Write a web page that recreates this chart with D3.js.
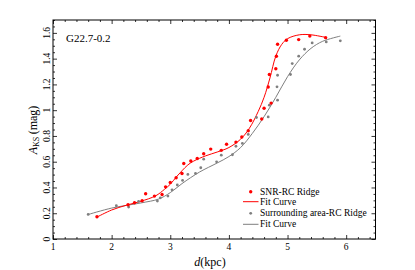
<!DOCTYPE html>
<html>
<head>
<meta charset="utf-8">
<script src="https://cdn.jsdelivr.net/npm/d3@7"></script>
<style>
  body { margin: 0; background: #fff; }
  svg text { font-family: "Liberation Serif", "DejaVu Serif", serif; fill: #000; }
</style>
</head>
<body>
<svg width="415" height="270"></svg>
<script>
// SNR-RC ridge points (red)
const snrD = [1.75, 2.28, 2.39, 2.52, 2.58, 2.73, 2.86, 2.92, 3.00, 3.10, 3.20, 3.23, 3.35, 3.46, 3.57, 3.69, 3.87, 3.96, 4.12, 4.22, 4.33, 4.37, 4.56, 4.60, 4.67, 4.72, 4.69, 4.80, 4.81, 4.83, 4.98, 5.19, 5.38, 5.65];
const snrA = [0.173, 0.266, 0.281, 0.297, 0.351, 0.333, 0.346, 0.405, 0.439, 0.476, 0.509, 0.586, 0.606, 0.625, 0.662, 0.698, 0.688, 0.735, 0.752, 0.792, 0.840, 0.920, 0.932, 1.015, 1.180, 1.055, 1.277, 1.322, 1.419, 1.512, 1.543, 1.548, 1.575, 1.563];

// surrounding area RC ridge points (gray)
const surD = [1.60, 2.08, 2.29, 2.46, 2.78, 2.83, 2.96, 3.03, 3.12, 3.21, 3.30, 3.43, 3.52, 3.57, 3.79, 3.87, 4.06, 4.12, 4.23, 4.33, 4.47, 4.67, 4.69, 4.83, 4.82, 4.83, 5.05, 5.08, 5.19, 5.29, 5.42, 5.66, 5.90];
const surA = [0.191, 0.258, 0.248, 0.292, 0.295, 0.320, 0.333, 0.382, 0.419, 0.455, 0.501, 0.509, 0.553, 0.620, 0.599, 0.651, 0.654, 0.720, 0.742, 0.812, 0.943, 0.948, 1.039, 1.078, 1.181, 1.271, 1.277, 1.362, 1.419, 1.473, 1.522, 1.530, 1.538];

// fit curves
const snrFitD = [1.75, 2.0, 2.25, 2.5, 2.75, 2.9, 3.0, 3.1, 3.2, 3.3, 3.4, 3.6, 3.8, 4.0, 4.2, 4.35, 4.5, 4.6, 4.7, 4.8, 4.9, 5.0, 5.2, 5.4, 5.65];
const snrFitA = [0.17, 0.225, 0.262, 0.293, 0.335, 0.385, 0.425, 0.48, 0.53, 0.575, 0.605, 0.645, 0.675, 0.71, 0.775, 0.86, 0.99, 1.10, 1.25, 1.42, 1.51, 1.555, 1.585, 1.585, 1.565];
const surFitD = [1.6, 2.0, 2.5, 2.8, 3.0, 3.2, 3.5, 3.8, 4.0, 4.2, 4.4, 4.6, 4.8, 5.0, 5.2, 5.4, 5.6, 5.9];
const surFitA = [0.19, 0.24, 0.28, 0.31, 0.36, 0.43, 0.52, 0.59, 0.64, 0.71, 0.82, 0.95, 1.10, 1.26, 1.39, 1.48, 1.535, 1.575];

const xTicks = [1, 2, 3, 4, 5, 6];
const yTicks = [0, 0.2, 0.4, 0.6, 0.8, 1, 1.2, 1.4, 1.6];
const legendLabels = ["SNR-RC Ridge", "Fit Curve", "Surrounding area-RC Ridge", "Fit Curve"];

const svg = d3.select("svg");
const mLeft = 53, mRight = 375.5, mTop = 20, mBottom = 239;

const x = d3.scaleLinear().domain([1, 6.5]).range([mLeft, mRight]);
const y = d3.scaleLinear().domain([0, 1.7]).range([mBottom, mTop]);

const xMinor = d3.range(1, 6.5001, 0.2).filter(v => Math.abs(v - Math.round(v)) > 1e-6);
const yMinor = d3.range(0, 1.7001, 0.05).filter(v => Math.abs(v / 0.2 - Math.round(v / 0.2)) > 1e-6);

// ticks on all four sides, pointing inward
function axisGroup(axis, tx, ty) {
  const g = svg.append("g").attr("transform", `translate(${tx},${ty})`).call(axis);
  g.select(".domain").remove();
  g.selectAll("line").attr("stroke", "#000").attr("stroke-width", 0.8);
  return g;
}
axisGroup(d3.axisBottom(x).tickValues(xTicks).tickSize(-4).tickFormat(""), 0, mBottom);
axisGroup(d3.axisBottom(x).tickValues(xMinor).tickSize(-2).tickFormat(""), 0, mBottom);
axisGroup(d3.axisTop(x).tickValues(xTicks).tickSize(-4).tickFormat(""), 0, mTop);
axisGroup(d3.axisTop(x).tickValues(xMinor).tickSize(-2).tickFormat(""), 0, mTop);
axisGroup(d3.axisLeft(y).tickValues(yTicks).tickSize(-4).tickFormat(""), mLeft, 0);
axisGroup(d3.axisLeft(y).tickValues(yMinor).tickSize(-2).tickFormat(""), mLeft, 0);
axisGroup(d3.axisRight(y).tickValues(yTicks).tickSize(-4).tickFormat(""), mRight, 0);
axisGroup(d3.axisRight(y).tickValues(yMinor).tickSize(-2).tickFormat(""), mRight, 0);

svg.append("rect")
  .attr("x", mLeft).attr("y", mTop)
  .attr("width", mRight - mLeft).attr("height", mBottom - mTop)
  .attr("fill", "none").attr("stroke", "#000").attr("stroke-width", 1);

// tick labels
svg.selectAll(".xl").data(xTicks).enter().append("text")
  .attr("x", d => x(d)).attr("y", 247)
  .attr("text-anchor", "middle").attr("dominant-baseline", "central")
  .attr("font-size", 9.5).text(d => d);

svg.selectAll(".yl").data(yTicks).enter().append("text")
  .attr("transform", d => `translate(46.5,${y(d)}) rotate(-90)`)
  .attr("text-anchor", "middle").attr("dominant-baseline", "central")
  .attr("font-size", 9.5).text(d => d);

// axis titles
const yt = svg.append("text")
  .attr("transform", "translate(33,130) rotate(-90)")
  .attr("text-anchor", "middle").attr("dominant-baseline", "central")
  .attr("font-size", 12);
yt.append("tspan").attr("font-style", "italic").text("A");
yt.append("tspan").attr("font-size", 8).attr("dy", 3).text("KS");
yt.append("tspan").attr("dy", -3).text("\u2009(mag)");

const xt = svg.append("text")
  .attr("x", 210).attr("y", 262)
  .attr("text-anchor", "middle").attr("dominant-baseline", "central")
  .attr("font-size", 12);
xt.append("tspan").attr("font-style", "italic").text("d");
xt.append("tspan").text("(kpc)");

svg.append("text").attr("x", 66).attr("y", 38)
  .attr("dominant-baseline", "central").attr("font-size", 11).text("G22.7-0.2");

// fit curves
const line = d3.line().x(d => x(d[0])).y(d => y(d[1])).curve(d3.curveCatmullRom);
svg.append("path").datum(surFitD.map((d, i) => [d, surFitA[i]]))
  .attr("d", line).attr("fill", "none").attr("stroke", "#7f7f7f").attr("stroke-width", 1);
svg.append("path").datum(snrFitD.map((d, i) => [d, snrFitA[i]]))
  .attr("d", line).attr("fill", "none").attr("stroke", "#ff0000").attr("stroke-width", 1);

// points
svg.selectAll(".sur").data(surD).enter().append("circle")
  .attr("cx", d => x(d)).attr("cy", (d, i) => y(surA[i]))
  .attr("r", 1.4).attr("fill", "#7f7f7f");
svg.selectAll(".snr").data(snrD).enter().append("circle")
  .attr("cx", d => x(d)).attr("cy", (d, i) => y(snrA[i]))
  .attr("r", 1.7).attr("fill", "#ff0000");

// legend
const legY = [191.7, 201.7, 213.3, 224.3];
const legColor = ["#ff0000", "#ff0000", "#7f7f7f", "#7f7f7f"];
legendLabels.forEach((t, i) => {
  if (i % 2 === 0) {
    svg.append("circle").attr("cx", 250.7).attr("cy", legY[i])
      .attr("r", i === 0 ? 1.7 : 1.4).attr("fill", legColor[i]);
  } else {
    svg.append("line").attr("x1", 243).attr("x2", 258.5)
      .attr("y1", legY[i]).attr("y2", legY[i])
      .attr("stroke", legColor[i]).attr("stroke-width", 1);
  }
  svg.append("text").attr("x", 260).attr("y", legY[i])
    .attr("dominant-baseline", "central").attr("font-size", 9.5).text(t);
});
</script>
</body>
</html>
